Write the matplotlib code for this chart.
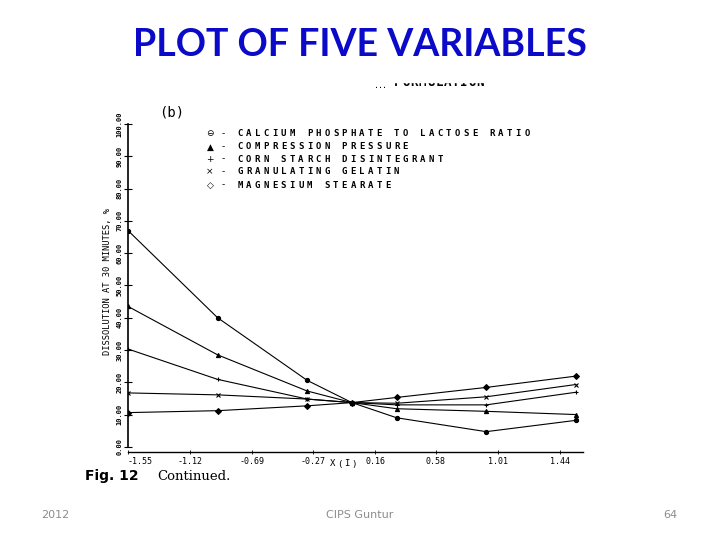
import matplotlib
matplotlib.use('agg')
import matplotlib.pyplot as plt
from matplotlib.patches import Rectangle

# datos
x_niveles = [-1.55, -0.93, -0.31, 0.0, 0.31, 0.93, 1.55]
fosfato_calcio = [67.0, 40.0, 20.6, 13.7, 9.0, 4.7, 8.2]
presion_compresion = [43.5, 28.5, 17.3, 13.7, 11.8, 11.0, 10.0]
almidon_maiz = [30.3, 20.9, 14.8, 13.7, 13.0, 13.0, 16.9]
gelatina = [16.7, 16.1, 14.8, 13.7, 13.5, 15.5, 19.3]
estearato_mg = [10.6, 11.2, 12.7, 13.7, 15.3, 18.4, 21.9]

nombres = ['CALCIUM PHOSPHATE TO LACTOSE RATIO', 'COMPRESSION PRESSURE',
           'CORN STARCH DISINTEGRANT', 'GRANULATING GELATIN', 'MAGNESIUM STEARATE']
simbolos = ['\u2296', '\u25b2', '+', '\u00d7', '\u25c7']
marcadores = ['o', '^', '+', 'x', 'D']

x_ticks = [-1.55, -1.12, -0.69, -0.27, 0.16, 0.58, 1.01, 1.44]
y_ticks = [0, 10, 20, 30, 40, 50, 60, 70, 80, 90, 100]

W, H = 720, 540


def fx(x):
    return x / W


def fy(y):
    return 1 - y / H


def texto_espaciado(x, y, s, paso, **kw):
    # letras a paso fijo, como la fuente de plotter del escaneo
    for i, ch in enumerate(s):
        fig.text(fx(x + i * paso), fy(y), ch, ha='center', va='center', **kw)


fig = plt.figure(figsize=(7.2, 5.4), dpi=100)
fig.patch.set_facecolor('white')

# titulo de la diapositiva
fig.text(0.5, fy(45), 'PLOT OF FIVE VARIABLES', ha='center', va='center',
         fontsize=27, fontweight='bold', color='#0a0ac8', family='Lato')

# ejes en pixeles: x=-1.55 en 128, 1.6 en 583 ; y=0 en 447, 100 en 124
ax_izq, ax_der = 128, 583
ax_abajo, ax_arriba = 452, 124
ax = fig.add_axes([fx(ax_izq), fy(ax_abajo), (ax_der - ax_izq) / W, (ax_abajo - ax_arriba) / H])
ax.set_xlim(-1.55, 1.6)
ax.set_ylim(-1.6, 100)

series = [fosfato_calcio, presion_compresion, almidon_maiz, gelatina, estearato_mg]
for serie, m in zip(series, marcadores):
    ax.plot(x_niveles, serie, color='black', lw=0.8, marker=m, ms=3,
            mfc='black', mec='black', mew=0.8)

for lado in ['top', 'right']:
    ax.spines[lado].set_visible(False)
ax.spines['left'].set_bounds(0, 100)
ax.spines['left'].set_linewidth(1.2)
ax.spines['bottom'].set_linewidth(1.0)

ax.set_yticks(y_ticks)
ax.set_yticklabels([f'{v:.2f}' for v in y_ticks], rotation=90, va='center',
                   family='DejaVu Sans Mono', fontsize=5, fontweight='bold')
ax.tick_params(axis='y', direction='inout', length=6, width=0.8, pad=1)
ax.set_xticks(x_ticks)
ax.set_xticklabels([f'{v:.2f}' for v in x_ticks], family='DejaVu Sans Mono', fontsize=6)
ax.tick_params(axis='x', direction='inout', length=3, width=0.6, pad=2)
ax.get_xticklabels()[0].set_horizontalalignment('left')

ax.set_ylabel('DISSOLUTION AT 30 MINUTES, %', family='DejaVu Sans Mono', fontsize=6.3)
ax.yaxis.set_label_coords(-0.035, 0.52)

texto_espaciado(333, 464, 'X(I)', 7, family='DejaVu Sans Mono', fontsize=6.5)

# leyenda dentro del grafico
fig.text(fx(172), fy(113), '(b)', ha='center', va='center', fontsize=10,
         family='DejaVu Sans Mono')
filas_y = [134, 147, 159, 172, 185]
for nombre, sim, yy in zip(nombres, simbolos, filas_y):
    fig.text(fx(210), fy(yy), sim, ha='center', va='center', fontsize=6.5)
    fig.text(fx(223), fy(yy), '-', ha='center', va='center', fontsize=6.5)
    texto_espaciado(240, yy, nombre, 8.7, family='DejaVu Sans Mono', fontsize=6.5,
                    fontweight='bold')

# encabezado recortado del escaneo (solo se ve la mitad inferior)
texto_espaciado(376, 85, '...', 4, family='DejaVu Sans Mono', fontsize=6)
texto_espaciado(398, 83, 'FORMULATION', 8.2, family='DejaVu Sans Mono', fontsize=9,
                fontweight='bold')
fig.patches.append(Rectangle((fx(365), fy(82)), (490 - 365) / W, 14 / H,
                             transform=fig.transFigure, color='white', zorder=5))

# pie de figura
fig.text(fx(85), fy(476), 'Fig. 12', ha='left', va='center', fontsize=10,
         fontweight='bold', family='DejaVu Sans')
fig.text(fx(157), fy(477), 'Continued.', ha='left', va='center', fontsize=9.5,
         family='DejaVu Serif')

# pie de diapositiva
gris = '#8c8c8c'
fig.text(fx(55), fy(515), '2012', ha='center', va='center', fontsize=8, color=gris)
fig.text(fx(360), fy(515), 'CIPS Guntur', ha='center', va='center', fontsize=8, color=gris)
fig.text(fx(670), fy(515), '64', ha='center', va='center', fontsize=8, color=gris)

plt.savefig('out.png', dpi=100)
